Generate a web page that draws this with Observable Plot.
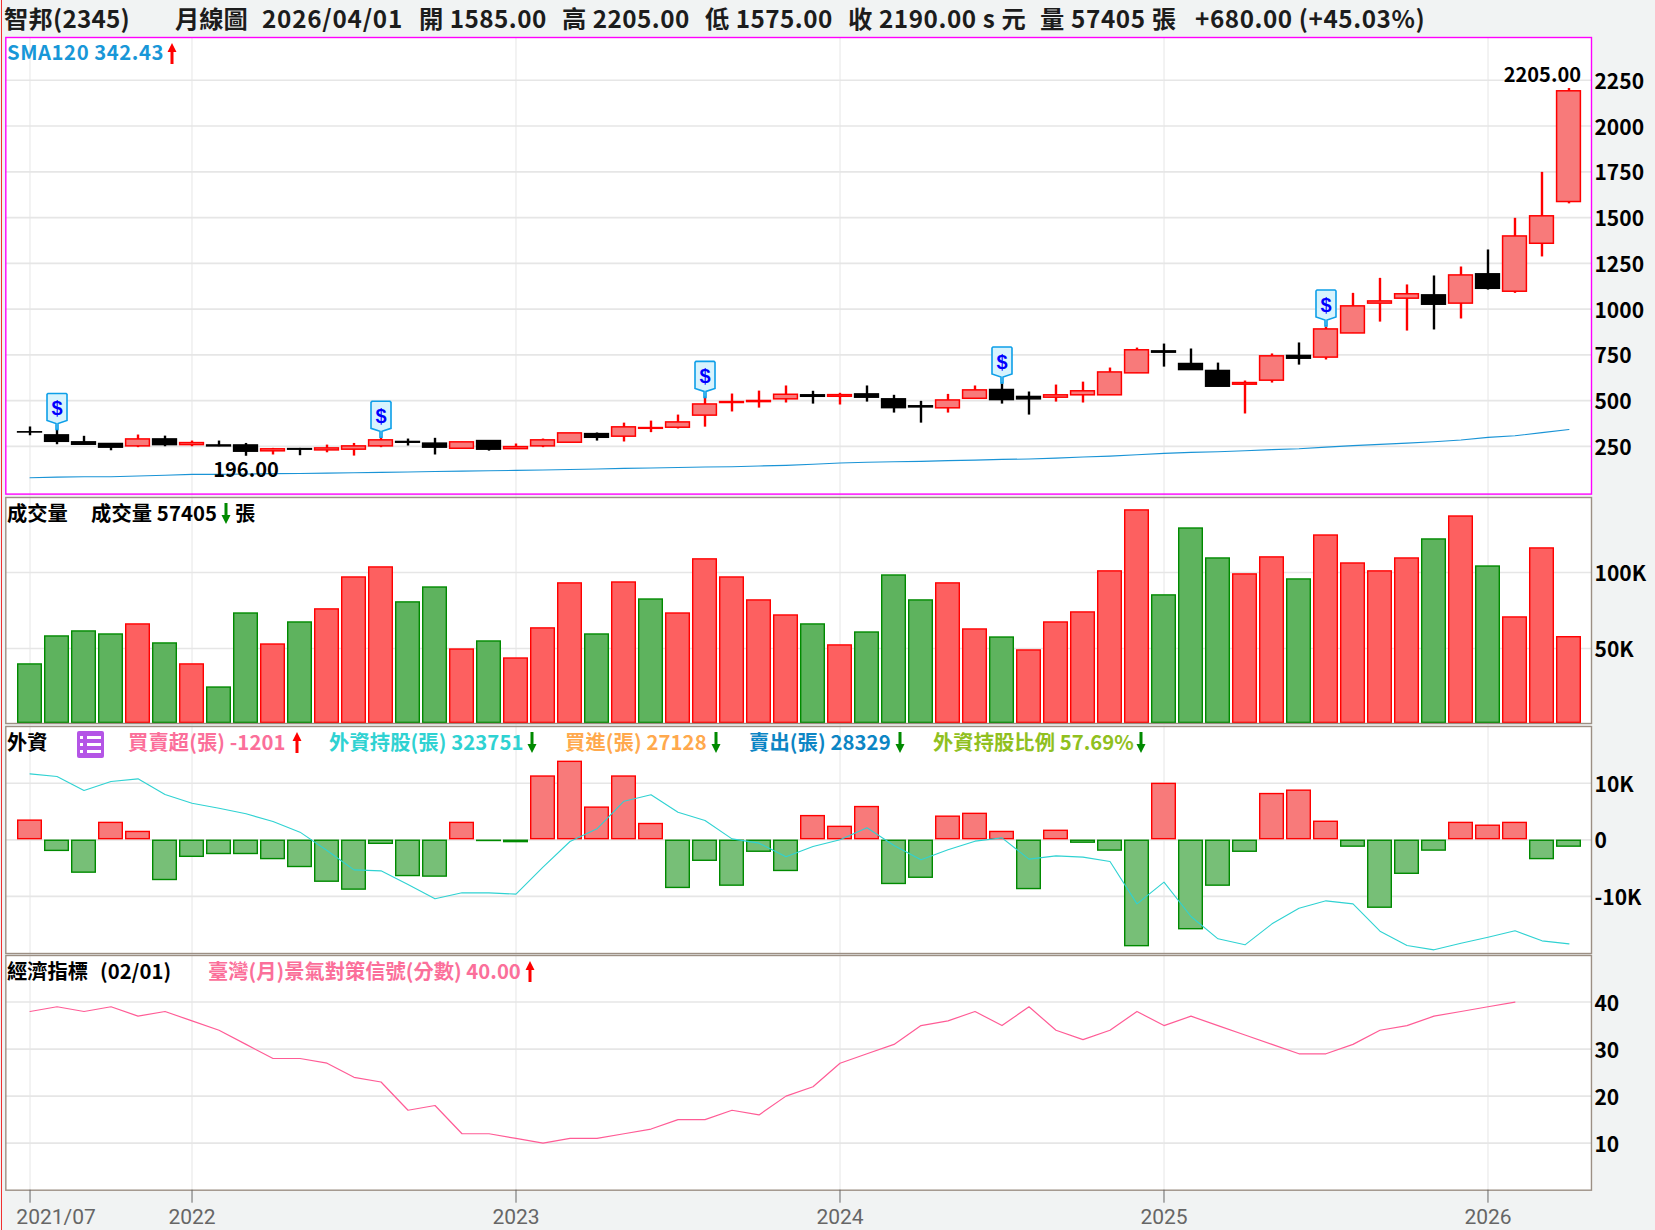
<!DOCTYPE html>
<html lang="zh-Hant"><head><meta charset="utf-8">
<script src="https://cdn.jsdelivr.net/npm/d3@7"></script>
<script src="https://cdn.jsdelivr.net/npm/@observablehq/plot@0.6"></script>
<style>
html,body{margin:0;padding:0;background:#f1f3f3;overflow:hidden}
#stage{position:relative;width:1655px;height:1230px;background:#f1f3f3;font-family:"Noto Sans CJK TC","Noto Sans",sans-serif;overflow:hidden}
.t{position:absolute;white-space:nowrap;line-height:1}
.h{font-size:24.3px;color:#1c1c1c;top:6px;font-weight:700}
.l{font-size:20.3px;font-weight:700}
.a{position:absolute;width:10px;height:21px}
#redline{position:absolute;left:1px;top:0;width:1.3px;height:1230px;background:#f03030}
</style></head><body><div id="stage"><div id="redline"></div></div>
<script>
const months=["2021/07","2021/08","2021/09","2021/10","2021/11","2021/12","2022/01","2022/02","2022/03","2022/04","2022/05","2022/06","2022/07","2022/08","2022/09","2022/10","2022/11","2022/12","2023/01","2023/02","2023/03","2023/04","2023/05","2023/06","2023/07","2023/08","2023/09","2023/10","2023/11","2023/12","2024/01","2024/02","2024/03","2024/04","2024/05","2024/06","2024/07","2024/08","2024/09","2024/10","2024/11","2024/12","2025/01","2025/02","2025/03","2025/04","2025/05","2025/06","2025/07","2025/08","2025/09","2025/10","2025/11","2025/12","2026/01","2026/02","2026/03","2026/04"];
const opens =[327,310,272,263,250,288,257,255,255,223,235,228,232,250,274,265,237,279,235,250,270,317,303,346,352,418,487,492,507,529,521,534,507,469,458,510,558,520,516,529,529,649,769,700,662,587,609,744,735,867,1030,1057,1075,1030,1190,1095,1357,1585];
const highs =[356,337,305,263,312,306,279,279,266,239,239,257,266,294,290,294,272,279,263,290,321,323,377,388,421,512,536,552,580,551,540,580,529,496,534,580,591,547,585,601,678,787,809,782,705,607,755,815,902,1086,1168,1132,1181,1230,1323,1496,1747,2205];
const lows  =[308,259,259,226,243,248,248,248,196,203,199,215,197,243,252,203,237,224,235,243,270,279,274,325,345,355,438,459,487,481,476,492,432,377,432,510,481,421,492,487,529,649,683,667,576,427,596,694,722,867,929,880,886,946,1104,1086,1285,1575];
const closes=[326,275,259,243,288,257,268,250,221,234,232,239,250,283,270,243,272,232,246,283,321,297,354,350,381,479,492,498,532,521,530,516,459,463,501,556,503,507,529,551,654,775,762,667,576,596,742,729,889,1015,1042,1081,1024,1184,1111,1397,1507,2190];
const smaValues=[79,82,84,84,88,92,97,97,99,101,102,104,106,108,110,113,115,117,119,121,124,126,130,132,135,137,139,143,146,152,159,163,166,168,172,175,179,181,186,192,197,204,212,217,221,226,232,237,246,254,261,268,275,285,299,308,325,342.43];
const signalMonths=["2021/08","2022/08","2023/08","2024/07","2025/07"];
const volume=[39.5,57.9,61.2,59.2,65.8,53.3,39.5,24.3,73,52.6,67.1,75.7,96.7,103.3,80.3,90.1,49.3,54.6,43.4,63.2,92.8,59.2,93.4,82.2,73,108.6,96.7,81.6,71.7,65.8,52,60.5,98,81.6,92.8,62.5,57.2,48.7,67.1,73.7,100.7,140.8,84.9,128.9,109.2,98.7,109.9,95.4,124.3,105.9,100.7,109.2,121.7,136.8,103.9,70.4,115.8,57.405];
const volumeUp=[0,0,0,0,1,0,1,0,0,1,0,1,1,1,0,0,1,0,1,1,1,0,1,0,1,1,1,1,1,0,1,0,0,0,1,1,0,1,1,1,1,1,0,0,0,1,1,0,1,1,1,1,0,1,0,1,1,1];
const foreignNet=[3.4,-1.95,-5.8,3,1.4,-7.1,-3,-2.5,-2.5,-3.4,-4.8,-7.4,-8.8,-0.7,-6.4,-6.5,3,-0.2,-0.4,11.2,13.8,5.7,11.2,2.8,-8.5,-3.7,-8.1,-2.1,-5.5,4.2,2.3,5.8,-7.8,-6.7,4.1,4.6,1.4,-8.7,1.6,-0.5,-1.9,-18.8,9.9,-15.8,-8.1,-2.1,8.1,8.7,3.2,-1.2,-12,-6,-1.9,3,2.5,3,-3.4,-1.201];
const foreignHold=[425750,424150,415750,421150,422750,413350,408150,405150,401750,397150,390750,379750,368150,367550,359350,350750,354350,354350,353550,369750,385150,392750,409350,413150,402750,397750,386750,384150,375950,382150,386150,393350,382750,374150,380150,385350,387350,374550,376550,375750,373150,347750,360750,340150,326750,323150,335750,345150,349550,347750,331350,322750,320150,324150,327750,331550,325550,323751];
const signalScore=[38,39,38,39,37,38,36,34,31,28,28,27,24,23,17,18,12,12,11,10,11,11,12,13,15,15,17,16,20,22,27,29,31,35,36,38,35,39,34,32,34,38,35,37,35,33,31,29,29,31,34,35,37,38,39,40];
const yearTicks=["2021/07","2022/01","2023/01","2024/01","2025/01","2026/01"];
const priceTicks=[250,500,750,1000,1250,1500,1750,2000,2250];
const volumeTicks=[50,100];
const foreignTicks=[-10,0,10];
const scoreTicks=[10,20,30,40];

const stage=document.getElementById("stage");
const FONT='"Noto Sans CJK TC","Noto Sans",sans-serif';
const RED="#ff0000",GREEN="#008a00",GRID="#e6e6e6",VGRID="#e6e6e6",BORDER="#9c8f84";
const candles=months.map((m,i)=>({m,o:opens[i],h:highs[i],l:lows[i],c:closes[i],up:closes[i]>=opens[i]}));
const xOpt={type:"band",domain:months,range:[16.1,1582.1],padding:0,axis:null};
const labelOf=m=>m.endsWith("/01")?m.slice(0,4):m;

function panel(top,bottom,domain,marks,frameColor,extra=0,gap=3.3){
  const pad=2;
  const svg=Plot.plot({width:1655,height:bottom-top+pad*2+extra,marginLeft:5.3,marginRight:64,marginTop:pad,marginBottom:pad+extra,
    style:{background:"transparent",fontFamily:FONT,overflow:"visible"},
    x:xOpt,y:{domain,axis:null},marks:[
      Plot.frame({fill:"white",stroke:"none"}),
      Plot.gridY({ticks:marks.ticks,stroke:GRID,strokeOpacity:1,strokeWidth:1.6}),
      Plot.gridX({ticks:yearTicks,stroke:VGRID,strokeOpacity:1,strokeWidth:1,insetBottom:-gap}),
      ...marks.list,
      Plot.frame({stroke:frameColor,strokeWidth:1.4}),
      Plot.axisY({anchor:"right",ticks:marks.ticks,tickSize:0,tickPadding:3,dy:1.8,tickFormat:marks.fmt,label:null,fontSize:21,fontWeight:700,color:"#000"}),
      ...(marks.after||[])
    ]});
  svg.style.position="absolute";svg.style.left="0";svg.style.top=(top-pad)+"px";
  stage.appendChild(svg);
}

const pin={draw(c){c.moveTo(-9,-36);c.lineTo(9,-36);c.lineTo(10,-35);c.lineTo(10,-9);c.lineTo(1,-6);c.lineTo(1,0);c.lineTo(-1,0);c.lineTo(-1,-6);c.lineTo(-10,-9);c.lineTo(-10,-35);c.closePath();}};
const signals=candles.filter(d=>signalMonths.includes(d.m));
const upC=candles.filter(d=>d.up),dnC=candles.filter(d=>!d.up);
panel(37.4,494,[-10.7,2483.9],{ticks:priceTicks,fmt:d=>String(d),list:[
  Plot.ruleX(upC,{x:"m",y1:"l",y2:"h",stroke:RED,strokeWidth:2.4}),
  Plot.ruleX(dnC,{x:"m",y1:"l",y2:"h",stroke:"#000",strokeWidth:2.4}),
  Plot.barY(upC,{x:"m",y1:"o",y2:"c",fill:"#f87a7a",stroke:RED,strokeWidth:1.5,insetLeft:1.6,insetRight:1.6}),
  Plot.barY(dnC,{x:"m",y1:"o",y2:"c",fill:"#000",stroke:"#000",strokeWidth:1.5,insetLeft:1.6,insetRight:1.6}),
  Plot.lineY(candles.map((d,i)=>({m:d.m,v:smaValues[i]})),{x:"m",y:"v",stroke:"#1a94d6",strokeWidth:1.1,curve:"linear"}),
  Plot.dot(signals,{x:"m",y:"h",symbol:pin,r:5,fill:"#d8f3fd",stroke:"#0d9fe8",strokeWidth:1.6,dy:-1}),
  Plot.text(signals,{x:"m",y:"h",text:()=>"$",dy:-21.5,fill:"#0000ff",fontSize:20,fontWeight:700,fontFamily:"Liberation Sans"}),
  Plot.text(candles.filter(d=>d.h===d3.max(highs)),{x:"m",y:"h",text:d=>d.h.toFixed(2),dy:-13,dx:12,textAnchor:"end",fontSize:20,fontWeight:700,fill:"#000"}),
  Plot.text(candles.filter(d=>d.l===d3.min(lows)),{x:"m",y:"l",text:d=>d.l.toFixed(2),dy:14,fontSize:20,fontWeight:700,fill:"#000"})
]},"#ff00ff");

const vol=months.map((m,i)=>({m,v:volume[i],up:volumeUp[i]}));
panel(497.3,723.3,[0.65,149.3],{ticks:volumeTicks,fmt:d=>d+"K",list:[
  Plot.barY(vol.filter(d=>d.up),{x:"m",y:"v",fill:"#fd6060",stroke:RED,strokeWidth:1.4,insetLeft:1.7,insetRight:1.7,insetBottom:1.6}),
  Plot.barY(vol.filter(d=>!d.up),{x:"m",y:"v",fill:"#5eb35e",stroke:GREEN,strokeWidth:1.4,insetLeft:1.7,insetRight:1.7,insetBottom:1.6})
]},BORDER,0,2.7);

const net=months.map((m,i)=>({m,v:foreignNet[i]}));
panel(726,953,[-20.1,20.05],{ticks:foreignTicks,fmt:d=>d===0?"0":d+"K",list:[
  Plot.barY(net.filter(d=>d.v>0),{x:"m",y1:()=>0,y2:"v",fill:"#f87a7a",stroke:RED,strokeWidth:1.4,insetLeft:1.7,insetRight:1.7,insetBottom:0.7}),
  Plot.barY(net.filter(d=>d.v<=0),{x:"m",y1:()=>0,y2:"v",fill:"#77bf77",stroke:GREEN,strokeWidth:1.4,insetLeft:1.7,insetRight:1.7,insetTop:0.9})
]},BORDER,0,2.3);

// holdings overlay: its own scale, drawn in the same panel
{const svg=Plot.plot({width:1655,height:227,marginLeft:5.3,marginRight:64,marginTop:0,marginBottom:0,
  style:{background:"transparent",overflow:"visible"},x:xOpt,y:{domain:[317951,454151],axis:null},
  marks:[Plot.lineY(months.map((m,i)=>({m,v:foreignHold[i]})),{x:"m",y:"v",stroke:"#2fd2d2",strokeWidth:1.1})]});
 svg.style.position="absolute";svg.style.left="0";svg.style.top="726px";stage.appendChild(svg);}

panel(955.3,1190,[0,49.9],{ticks:scoreTicks,fmt:d=>String(d),list:[
  Plot.lineY(signalScore.map((v,i)=>({m:months[i],v})),{x:"m",y:"v",stroke:"#ff5c96",strokeWidth:1.2})
],after:[
  Plot.axisX({ticks:yearTicks.slice(1),anchor:"bottom",tickSize:13,tickPadding:6,tickFormat:labelOf,label:null,fontSize:21,fontWeight:400,fontFamily:"Roboto",color:"#666"}),
  Plot.axisX({ticks:yearTicks.slice(0,1),anchor:"bottom",tickSize:13,text:null,label:null,color:"#666"}),
  Plot.axisX({ticks:yearTicks.slice(0,1),anchor:"bottom",tickSize:0,tickPadding:19,dx:26,tickFormat:labelOf,label:null,fontSize:21,fontWeight:400,fontFamily:"Roboto",color:"#666"})
]},BORDER,38,0);

function txt(x,y,s,color,cls,ls){const e=document.createElement("div");e.className="t "+cls;e.textContent=s;e.style.left=x+"px";if(y!=null)e.style.top=y+"px";e.style.color=color;if(ls)e.style.letterSpacing=ls+"px";stage.appendChild(e);return e;}
function arrow(x,y,up){const color=up?"#ff0000":"#008a00";const e=document.createElementNS("http://www.w3.org/2000/svg","svg");e.setAttribute("class","a");e.setAttribute("viewBox","0 0 10 21");e.style.left=x+"px";e.style.top=y+"px";
 const p=document.createElementNS("http://www.w3.org/2000/svg","path");p.setAttribute("d",up?"M5 0L9.5 9H6.5V21H3.5V9H.5Z":"M5 21L9.5 12H6.5V0H3.5V12H.5Z");p.setAttribute("fill",color);e.appendChild(p);stage.appendChild(e);}

[[4,"智邦(2345)",.2],[175,"月線圖",0],[262,"2026/04/01",.75],[419,"開 1585.00",.45],[562,"高 2205.00",.45],[705,"低 1575.00",.45],[848,"收 2190.00 s 元",.55],[1040,"量 57405 張",.6],[1195,"+680.00 (+45.03%)",.55]].forEach(([x,s,ls])=>txt(x,null,s,"#1c1c1c","h",ls));

const Y1=41,Y2=502,Y3=731,Y4=959.5;
txt(7,Y1,"SMA120 342.43","#1897d8","l",.55);arrow(167,43,true);
txt(7,Y2,"成交量","#000","l");txt(91,Y2,"成交量 57405","#000","l",.1);arrow(221,503,false);txt(235,Y2,"張","#000","l");
txt(7,Y3,"外資","#000","l");
txt(128,Y3,"買賣超(張) -1201","#fb6f9a","l",.1);arrow(292,732,true);
txt(329,Y3,"外資持股(張) 323751","#2fd2d2","l",.1);arrow(527,732,false);
txt(565,Y3,"買進(張) 27128","#ffa94d","l",.1);arrow(711,732,false);
txt(749,Y3,"賣出(張) 28329","#0c85c4","l",.1);arrow(895,732,false);
txt(933,Y3,"外資持股比例 57.69%","#90c020","l",.05);arrow(1136,732,false);
txt(7,Y4,"經濟指標","#000","l");txt(100,Y4,"(02/01)","#000","l");
txt(208,Y4,"臺灣(月)景氣對策信號(分數) 40.00","#fb6f9a","l");arrow(525,961,true);

// list icon of the 外資 panel
{const n="http://www.w3.org/2000/svg";const s=document.createElementNS(n,"svg");s.setAttribute("viewBox","0 0 27 27");s.style.cssText="position:absolute;left:77px;top:731px;width:27px;height:27px";
 s.innerHTML='<rect width="27" height="27" rx="2" fill="#b455e6"/><g fill="#fff"><rect x="10" y="5" width="14" height="3"/><rect x="10" y="12" width="14" height="3"/><rect x="10" y="19" width="14" height="3"/><rect x="3" y="12" width="3" height="3"/><rect x="3" y="19" width="3" height="3"/><rect x="3" y="5" width="3" height="3"/></g>';stage.appendChild(s);}
</script></body></html>
